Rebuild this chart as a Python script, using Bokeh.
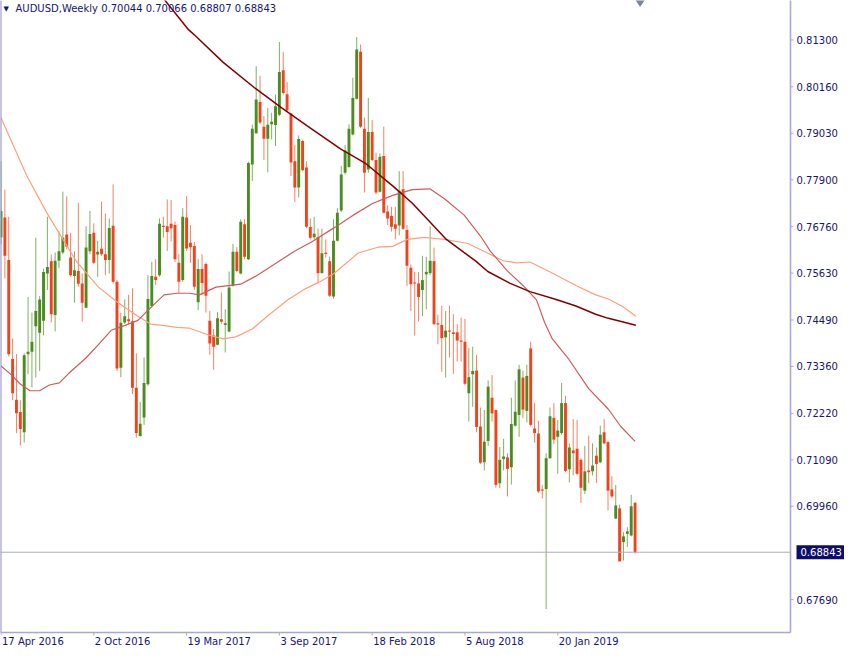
import math
from bokeh.plotting import figure
from bokeh.models import Range1d, Label, ColumnDataSource
from bokeh.core.properties import value
from bokeh.embed import file_html
from bokeh.resources import INLINE

# ---------------- data (weekly AUDUSD) ----------------
OPEN = [0.7650, 0.7698, 0.7595, 0.7354, 0.7255, 0.7225, 0.7176, 0.7366, 0.7372, 0.7434,
        0.7418, 0.7447, 0.7562, 0.7592, 0.7461, 0.7593, 0.7613, 0.7657, 0.7601, 0.7556,
        0.7568, 0.7538, 0.7479, 0.7616, 0.7661, 0.7608, 0.7622, 0.7609, 0.7595, 0.7678,
        0.7542, 0.7333, 0.7443, 0.7451, 0.7446, 0.7284, 0.7167, 0.7212, 0.7293, 0.7483,
        0.7554, 0.7558, 0.7678, 0.7677, 0.7683, 0.7680, 0.7588, 0.7546, 0.7698, 0.7637,
        0.7629, 0.7492, 0.7573, 0.7585, 0.7447, 0.7411, 0.7389, 0.7451, 0.7437, 0.7421,
        0.7532, 0.7615, 0.7562, 0.7682, 0.7597, 0.7827, 0.7903, 0.7979, 0.7919, 0.7890,
        0.7925, 0.7923, 0.7948, 0.8056, 0.7998, 0.7951, 0.7835, 0.7771, 0.7884, 0.7820,
        0.7675, 0.7650, 0.7651, 0.7563, 0.7612, 0.7592, 0.7506, 0.7642, 0.7715, 0.7807,
        0.7821, 0.7900, 0.7987, 0.8101, 0.7914, 0.7815, 0.7906, 0.7838, 0.7761, 0.7848,
        0.7713, 0.7702, 0.7682, 0.7679, 0.7767, 0.7668, 0.7576, 0.7540, 0.7538, 0.7522,
        0.7560, 0.7563, 0.7592, 0.7441, 0.7437, 0.7407, 0.7423, 0.7419, 0.7419, 0.7399,
        0.7396, 0.7271, 0.7317, 0.7326, 0.7190, 0.7103, 0.7155, 0.7260, 0.7230, 0.7052,
        0.7111, 0.7115, 0.7091, 0.7192, 0.7218, 0.7309, 0.7228, 0.7380, 0.7185, 0.7173,
        0.7037, 0.7038, 0.7113, 0.7211, 0.7165, 0.7174, 0.7247, 0.7086, 0.7132, 0.7136,
        0.7109, 0.7034, 0.7083, 0.7081, 0.7119, 0.7103, 0.7176, 0.7152, 0.7037, 0.6966,
        0.6991, 0.6909, 0.6929, 0.6925, 0.70044]

HIGH = [0.7835, 0.7766, 0.7700, 0.7404, 0.7366, 0.7254, 0.7368, 0.7505, 0.7467, 0.7649,
        0.7507, 0.7574, 0.7700, 0.7608, 0.7613, 0.7665, 0.7761, 0.7750, 0.7661, 0.7616,
        0.7734, 0.7562, 0.7677, 0.7714, 0.7684, 0.7641, 0.7737, 0.7708, 0.7696, 0.7779,
        0.7546, 0.7467, 0.7499, 0.7510, 0.7526, 0.7368, 0.7250, 0.7358, 0.7558, 0.7590,
        0.7597, 0.7696, 0.7700, 0.7742, 0.7741, 0.7688, 0.7609, 0.7721, 0.7750, 0.7680,
        0.7639, 0.7597, 0.7609, 0.7589, 0.7471, 0.7427, 0.7468, 0.7516, 0.7475, 0.7567,
        0.7634, 0.7626, 0.7694, 0.7694, 0.7834, 0.7924, 0.8066, 0.8043, 0.7945, 0.7965,
        0.7953, 0.7997, 0.8125, 0.8101, 0.8028, 0.7953, 0.7874, 0.7898, 0.7887, 0.7835,
        0.7696, 0.7700, 0.7671, 0.7671, 0.7645, 0.7603, 0.7694, 0.7721, 0.7824, 0.7874,
        0.7925, 0.8038, 0.8137, 0.8119, 0.7941, 0.7989, 0.7935, 0.7856, 0.7854, 0.7919,
        0.7728, 0.7724, 0.7724, 0.7811, 0.7811, 0.7680, 0.7584, 0.7566, 0.7566, 0.7605,
        0.7603, 0.7676, 0.7625, 0.7462, 0.7484, 0.7471, 0.7484, 0.7463, 0.7439, 0.7455,
        0.7452, 0.7381, 0.7384, 0.7364, 0.7236, 0.7230, 0.7302, 0.7315, 0.7231, 0.7140,
        0.7160, 0.7125, 0.7260, 0.7302, 0.7340, 0.7326, 0.7340, 0.7396, 0.7247, 0.7204,
        0.7048, 0.7125, 0.7236, 0.7247, 0.7206, 0.7296, 0.7265, 0.7149, 0.7208, 0.7206,
        0.7113, 0.7143, 0.7168, 0.7149, 0.7139, 0.7192, 0.7208, 0.7155, 0.7069, 0.7048,
        0.7000, 0.6933, 0.6945, 0.7024, 0.70066]

LOW = [0.7633, 0.7550, 0.7360, 0.7254, 0.7174, 0.7144, 0.7151, 0.7317, 0.7285, 0.7309,
       0.7325, 0.7412, 0.7522, 0.7443, 0.7421, 0.7575, 0.7609, 0.7621, 0.7554, 0.7491,
       0.7530, 0.7445, 0.7479, 0.7609, 0.7585, 0.7554, 0.7605, 0.7558, 0.7562, 0.7538,
       0.7325, 0.7310, 0.7439, 0.7439, 0.7269, 0.7163, 0.7165, 0.7194, 0.7289, 0.7479,
       0.7534, 0.7554, 0.7649, 0.7617, 0.7640, 0.7590, 0.7514, 0.7542, 0.7617, 0.7588,
       0.7522, 0.7473, 0.7510, 0.7467, 0.7365, 0.7328, 0.7388, 0.7439, 0.7370, 0.7419,
       0.7530, 0.7565, 0.7560, 0.7597, 0.7595, 0.7787, 0.7902, 0.7925, 0.7838, 0.7808,
       0.7888, 0.7872, 0.7945, 0.7997, 0.7957, 0.7799, 0.7736, 0.7747, 0.7811, 0.7672,
       0.7645, 0.7645, 0.7538, 0.7562, 0.7601, 0.7505, 0.7500, 0.7640, 0.7712, 0.7803,
       0.7819, 0.7898, 0.7985, 0.7916, 0.7759, 0.7807, 0.7835, 0.7755, 0.7759, 0.7708,
       0.7680, 0.7664, 0.7645, 0.7655, 0.7668, 0.7532, 0.7471, 0.7411, 0.7445, 0.7458,
       0.7475, 0.7558, 0.7437, 0.7390, 0.7323, 0.7309, 0.7358, 0.7318, 0.7348, 0.7348,
       0.7290, 0.7202, 0.7238, 0.7176, 0.7099, 0.7083, 0.7143, 0.7202, 0.7041, 0.7040,
       0.7083, 0.7020, 0.7049, 0.7190, 0.7165, 0.7210, 0.7200, 0.7190, 0.7151, 0.7028,
       0.7015, 0.6746, 0.7111, 0.7147, 0.7075, 0.7170, 0.7079, 0.7054, 0.7071, 0.7071,
       0.7004, 0.7026, 0.7052, 0.7071, 0.7053, 0.7101, 0.7147, 0.6986, 0.7016, 0.6965,
       0.6862, 0.6864, 0.6897, 0.6923, 0.68807]

CLOSE = [0.7714, 0.7605, 0.7366, 0.7271, 0.7222, 0.7184, 0.7363, 0.7372, 0.7396, 0.7471,
         0.7499, 0.7566, 0.7578, 0.7463, 0.7593, 0.7616, 0.7649, 0.7627, 0.7558, 0.7570,
         0.7537, 0.7491, 0.7625, 0.7658, 0.7588, 0.7615, 0.7609, 0.7595, 0.7673, 0.7542,
         0.7331, 0.7442, 0.7458, 0.7446, 0.7284, 0.7174, 0.7197, 0.7296, 0.7500, 0.7556,
         0.7546, 0.7683, 0.7675, 0.7663, 0.7672, 0.7597, 0.7542, 0.7700, 0.7623, 0.7626,
         0.7530, 0.7573, 0.7539, 0.7508, 0.7392, 0.7384, 0.7453, 0.7445, 0.7441, 0.7528,
         0.7615, 0.7568, 0.7688, 0.7603, 0.7831, 0.7914, 0.7985, 0.7929, 0.7890, 0.7924,
         0.7931, 0.7969, 0.8052, 0.8001, 0.7959, 0.7832, 0.7771, 0.7889, 0.7813, 0.7676,
         0.7649, 0.7659, 0.7563, 0.7611, 0.7610, 0.7508, 0.7642, 0.7710, 0.7803, 0.7861,
         0.7914, 0.7989, 0.8107, 0.7919, 0.7807, 0.7906, 0.7838, 0.7759, 0.7846, 0.7710,
         0.7696, 0.7676, 0.7671, 0.7763, 0.7671, 0.7581, 0.7536, 0.7538, 0.7505, 0.7546,
         0.7566, 0.7593, 0.7439, 0.7438, 0.7405, 0.7423, 0.7421, 0.7415, 0.7399, 0.7396,
         0.7294, 0.7310, 0.7325, 0.7189, 0.7102, 0.7153, 0.7287, 0.7222, 0.7048, 0.7109,
         0.7117, 0.7087, 0.7196, 0.7226, 0.7329, 0.7231, 0.7313, 0.7194, 0.7174, 0.7032,
         0.7034, 0.7113, 0.7215, 0.7158, 0.7180, 0.7247, 0.7082, 0.7139, 0.7125, 0.7075,
         0.7041, 0.7081, 0.7079, 0.7095, 0.7099, 0.7170, 0.7149, 0.7034, 0.7020, 0.6998,
         0.6862, 0.6923, 0.6935, 0.6996, 0.68843]

# moving averages (bar position, value)
MA50_X = [0, 2.4, 4.9, 7.5, 10, 12.5, 15.1, 17.6, 21.9, 25.2, 28.5, 32.1, 35.4, 38.7, 42.2,
          45.5, 48.8, 51.3, 55.6, 62, 65.8, 70.9, 75.9, 80.2, 86.1, 91.1, 96.2, 101.3, 106.4,
          110.9, 114.7, 119.8, 124.1, 126.6, 130.9, 135, 138.5, 140.6, 142.6, 146.9, 152,
          157.1, 160.3, 164]
MA50_Y = [0.7337, 0.7318, 0.7294, 0.7277, 0.7277, 0.7291, 0.7296, 0.7320, 0.7356, 0.7389,
          0.7424, 0.7436, 0.7448, 0.7479, 0.7510, 0.7514, 0.7514, 0.7510, 0.7529, 0.7536,
          0.7555, 0.7586, 0.7616, 0.7638, 0.7673, 0.7704, 0.7733, 0.7752, 0.7766, 0.7768,
          0.7744, 0.7704, 0.7652, 0.7616, 0.7569, 0.7533, 0.7498, 0.7443, 0.7403, 0.7353,
          0.7282, 0.7232, 0.7190, 0.7154]

MA100_X = [0, 6.7, 12, 19.4, 25.2, 30.3, 35.4, 38.7, 41.7, 45.5, 48.8, 53.9, 57.4, 60.7, 65,
           69.1, 74.2, 78.5, 82.3, 86.1, 92.4, 97.5, 101.3, 105.1, 109.6, 114.7, 120.8,
           124.9, 129.9, 133.5, 136.8, 141.8, 148.7, 153.8, 157.1, 160.9, 164.2]
MA100_Y = [0.7941, 0.7799, 0.7707, 0.7593, 0.7529, 0.7491, 0.7458, 0.7439, 0.7436, 0.7431,
           0.7429, 0.7412, 0.7403, 0.7408, 0.7427, 0.7460, 0.7498, 0.7524, 0.7541, 0.7562,
           0.7612, 0.7626, 0.7628, 0.7645, 0.7650, 0.7645, 0.7635, 0.7616, 0.7593, 0.7588,
           0.7590, 0.7567, 0.7533, 0.7510, 0.7500, 0.7481, 0.7458]

MA200_X = [42, 48.5, 50.6, 57.4, 65.8, 72.6, 79.2, 87.8, 94.4, 101.3, 106.4, 115.2, 122.8,
           125.9, 131.7, 136.8, 143.6, 148.7, 153.8, 157.1, 164.2]
MA200_Y = [0.8231, 0.8155, 0.8137, 0.8076, 0.8012, 0.7965, 0.7921, 0.7865, 0.7829, 0.7775,
           0.7733, 0.7645, 0.7592, 0.7567, 0.7538, 0.7518, 0.7499, 0.7483, 0.7463, 0.7453,
           0.7436]

PRICE_TICKS = [0.81300, 0.80160, 0.79030, 0.77900, 0.76760, 0.75630, 0.74490, 0.73360,
               0.72220, 0.71090, 0.69960, 0.67690]
DATE_TICK_BARS = [0, 24, 48, 72, 96, 120, 144]
DATE_TICK_LABELS = ["17 Apr 2016", "2 Oct 2016", "19 Mar 2017", "3 Sep 2017",
                    "18 Feb 2018", "5 Aug 2018", "20 Jan 2019"]
SYMBOL = "AUDUSD,Weekly"

# ---------------- styling / layout ----------------
UP_BODY, UP_WICK = "#4a8b22", "#80b062"
DN_BODY, DN_WICK = "#f2421b", "#f5825f"
AX_COL = "#a8a8d6"
LEFT_COL = "#8c8cc6"
TXT_COL = "#16166e"
BOX_COL = "#0e0e68"
FONT = "DejaVu Sans"

CANVAS_W, CANVAS_H = 844, 648      # whole figure
PLOT_W, PLOT_H = 790, 632          # chart area inside it (rest: price scale / date scale)

X_START, X_END = -0.13, 204.2      # visible bars in the chart area
Y_LOW, Y_HIGH = 0.66891, 0.82259   # visible prices in the chart area

# ranges of the whole canvas (chart area + scale panels drawn by hand)
X_CANVAS_END = X_START + (X_END - X_START) * CANVAS_W / PLOT_W
Y_CANVAS_LOW = Y_HIGH - (Y_HIGH - Y_LOW) * CANVAS_H / PLOT_H
AXIS_X = X_END

n = len(OPEN)
idx = list(range(n))
up = [c >= o for o, c in zip(OPEN, CLOSE)]
min_body = 0.00025
top, bot = [], []
for o, c in zip(OPEN, CLOSE):
    hi, lo = max(o, c), min(o, c)
    if hi - lo < min_body:
        mid = (hi + lo) / 2
        hi, lo = mid + min_body / 2, mid - min_body / 2
    top.append(hi)
    bot.append(lo)

src = ColumnDataSource(dict(
    x=idx, o=OPEN, h=HIGH, l=LOW, c=CLOSE, top=top, bot=bot,
    body=[UP_BODY if u else DN_BODY for u in up],
    wick=[UP_WICK if u else DN_WICK for u in up],
))

p = figure(width=CANVAS_W, height=CANVAS_H,
           x_range=Range1d(X_START, X_CANVAS_END), y_range=Range1d(Y_CANVAS_LOW, Y_HIGH),
           output_backend="svg", toolbar_location=None,
           x_axis_location=None, y_axis_location=None, min_border=0)
p.grid.visible = False
p.outline_line_color = None
p.background_fill_color = "white"
p.border_fill_color = "white"

# candles
p.segment(x0="x", y0="l", x1="x", y1="h", line_color="wick", line_width=1, source=src)
p.vbar(x="x", width=0.75, top="top", bottom="bot", fill_color="body", line_color=None, source=src)

# moving averages
p.line(MA100_X, MA100_Y, line_color="#ffa07a", line_width=1.2)
p.line(MA50_X, MA50_Y, line_color="#cd5c5c", line_width=1.2)
p.line(MA200_X, MA200_Y, line_color="#800000", line_width=1.5)

# current price line (chart area only)
p.segment(x0=[X_START], y0=[CLOSE[-1]], x1=[AXIS_X], y1=[CLOSE[-1]],
          line_color="#a7afb8", line_width=1)

# chart-shift marker at the top
p.scatter([n + 0.3], [Y_HIGH], marker="diamond", size=13, fill_color="#7d8694", line_color=None)

# frame lines: left border, price-scale line, date-scale line
p.segment(x0=[X_START], y0=[Y_LOW], x1=[X_START], y1=[Y_HIGH + 0.01],
          line_color=LEFT_COL, line_width=2)
p.segment(x0=[AXIS_X], y0=[Y_LOW], x1=[AXIS_X], y1=[Y_HIGH + 0.01],
          line_color=AX_COL, line_width=1.6)
p.segment(x0=[X_START], y0=[Y_LOW], x1=[AXIS_X], y1=[Y_LOW],
          line_color=AX_COL, line_width=1.6)

# price scale
p.ray(x=[AXIS_X] * len(PRICE_TICKS), y=PRICE_TICKS, length=3, length_units="screen",
      angle=0, line_color=AX_COL, line_width=1)
p.text(x=[AXIS_X] * len(PRICE_TICKS), y=PRICE_TICKS,
       text=[f"{t:.5f}" for t in PRICE_TICKS], x_offset=6,
       text_align="left", text_baseline="middle",
       text_font=value(FONT), text_font_size="10px", text_color=TXT_COL)

# date scale
p.ray(x=DATE_TICK_BARS, y=[Y_LOW] * len(DATE_TICK_BARS), length=3, length_units="screen",
      angle=-math.pi / 2, line_color=AX_COL, line_width=1)
p.text(x=DATE_TICK_BARS, y=[Y_LOW] * len(DATE_TICK_BARS), text=DATE_TICK_LABELS,
       x_offset=1, y_offset=3, text_align="left", text_baseline="top",
       text_font=value(FONT), text_font_size="10px", text_color=TXT_COL)

# header text
p.add_layout(Label(x=3, x_units="screen", y=Y_HIGH, y_units="data", y_offset=-4,
                   text="▼", text_font=FONT, text_font_size="7px", text_color=TXT_COL,
                   text_baseline="top"))
p.add_layout(Label(x=15, x_units="screen", y=Y_HIGH, y_units="data", y_offset=-2,
                   text=f"{SYMBOL}  {OPEN[-1]:.5f} {HIGH[-1]:.5f} {LOW[-1]:.5f} {CLOSE[-1]:.5f}",
                   text_font=FONT, text_font_size="10px", text_color=TXT_COL,
                   text_baseline="top"))

# current price box on the price scale
p.add_layout(Label(x=AXIS_X, y=CLOSE[-1], x_offset=6, text=f"{CLOSE[-1]:.5f}",
                   text_font=FONT, text_font_size="10px", text_color="white",
                   text_baseline="middle", text_align="left",
                   background_fill_color=BOX_COL,
                   padding=dict(left=4, right=4, top=3, bottom=3)))

open("out.html", "w").write(file_html(p, INLINE))
